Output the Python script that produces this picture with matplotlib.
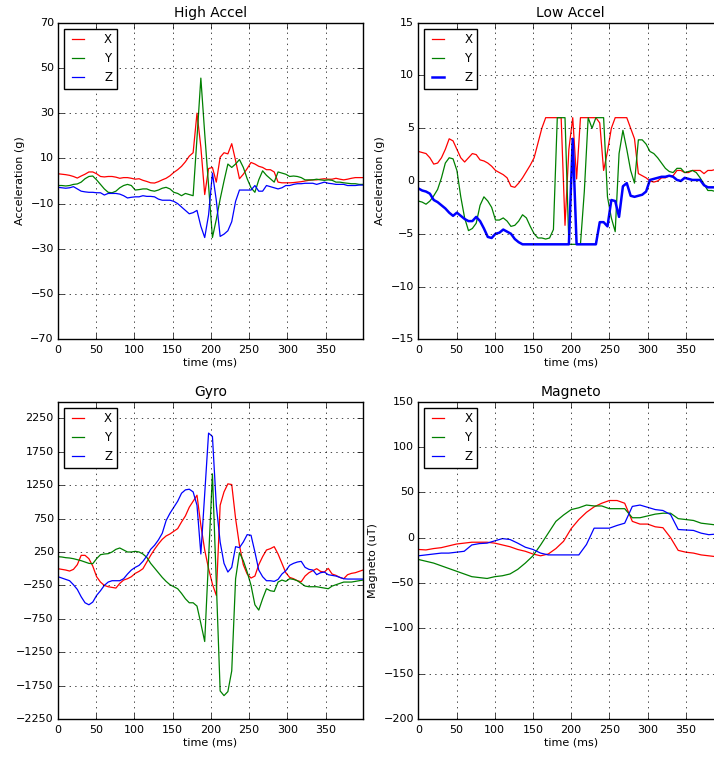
import numpy as np
import matplotlib
matplotlib.use("Agg")
import matplotlib.pyplot as plt

# sample times (ms), 80 samples per sensor
time_ms = np.linspace(0, 399, 80)
# magneto is read on a coarser grid
mag_time_ms = np.arange(0, 400, 10)

# High accel (g)
high_x = [3.2, 3.0, 2.8, 2.5, 2.0, 1.3, 2.2, 3.0, 4.0, 4.0, 3.2, 2.0, 1.8, 2.0, 2.0, 1.7,
          1.2, 1.5, 1.5, 1.2, 0.8, 1.0, 0.3, -0.2, -0.8, -0.9, -0.3, 0.5, 1.2, 2.3, 3.8, 5.0,
          6.5, 8.5, 11.0, 12.5, 30.0, 15.0, -6.0, 5.5, 6.0, -0.5, 10.5, 12.5, 12.0, 16.5, 9.0, 1.0,
          3.0, 5.5, 8.2, 7.5, 6.5, 6.0, 5.0, 5.0, 4.0, -0.5, -0.8, -0.8, -0.8, -0.7, -0.5, -0.3,
          0.0, 0.3, 0.5, 0.5, 0.8, 1.0, 0.8, 0.8, 1.2, 0.8, 0.5, 0.8, 1.2, 1.5, 1.5, 1.5]
high_y = [-2.0, -2.0, -2.2, -2.0, -1.5, -1.3, -0.5, 1.0, 2.0, 2.2, 0.5, -1.5, -3.5, -5.0, -5.2, -4.5,
          -3.0, -2.0, -1.5, -2.0, -4.0, -3.8, -3.5, -3.5, -4.2, -4.5, -4.0, -3.2, -2.8, -3.5, -5.0, -5.5,
          -6.5, -5.5, -6.0, -6.5, 19.0, 45.5, 21.0, -2.0, -25.0, -17.0, -8.0, 0.0, 7.5, 6.0, 7.5, 9.5,
          6.0, 1.0, -3.0, -5.0, 0.5, 4.5, 2.5, 1.0, -0.5, 4.0, 3.5, 3.0, 2.0, 2.2, 2.0, 1.5,
          0.5, 0.5, 0.5, 0.8, 0.5, 0.3, 0.5, 0.3, -0.5, -0.5, -0.8, -1.0, -1.2, -1.2, -1.5, -1.5]
high_z = [-2.8, -3.0, -3.2, -3.0, -2.5, -3.5, -4.5, -4.8, -5.0, -5.0, -5.2, -5.2, -6.2, -5.5, -5.5, -5.5,
          -5.8, -6.5, -7.5, -7.2, -7.0, -7.0, -6.5, -6.8, -6.8, -7.0, -8.0, -8.5, -8.5, -8.5, -9.0, -10.0,
          -11.5, -13.0, -14.5, -14.0, -13.0, -20.0, -25.0, -15.0, 3.5, -8.5, -24.5, -23.5, -22.0, -18.0, -9.0, -4.0,
          -4.0, -4.0, -4.0, -2.0, -4.5, -4.5, -2.0, -2.5, -3.0, -3.5, -3.0, -2.0, -2.0, -1.5, -1.2, -1.2,
          -1.0, -1.0, -1.0, -1.5, -1.0, -0.5, -1.0, -1.2, -1.5, -1.5, -1.5, -2.0, -2.0, -2.0, -1.8, -1.8]

# Low accel (g)
low_x = [2.8, 2.7, 2.6, 2.2, 1.6, 1.7, 2.2, 3.0, 4.0, 3.8, 3.0, 2.2, 1.8, 2.2, 2.6, 2.5,
         2.0, 1.9, 1.7, 1.4, 1.0, 0.8, 0.6, 0.3, -0.5, -0.6, -0.2, 0.3, 0.9, 1.5, 2.2, 3.6,
         5.0, 6.0, 6.0, 6.0, 6.0, 6.0, -4.2, 3.0, 6.0, 0.2, 6.0, 6.0, 6.0, 6.0, 6.0, 5.5,
         1.0, 2.8, 5.0, 6.0, 6.0, 6.0, 6.0, 5.0, 4.0, 0.7, 0.5, 0.3, 0.0, -0.1, 0.0, 0.3,
         0.3, 0.5, 0.5, 1.0, 1.0, 0.8, 0.8, 1.0, 1.0, 1.0, 0.7, 1.0, 1.0, 1.1, 1.2, 1.2]
low_y = [-1.9, -2.0, -2.2, -1.9, -1.4, -0.8, 0.3, 1.7, 2.2, 2.1, 1.0, -1.5, -3.5, -4.7, -4.5, -4.0,
         -2.3, -1.5, -1.9, -2.5, -3.7, -3.7, -3.5, -3.8, -4.3, -4.2, -3.8, -3.2, -3.5, -4.3, -5.0, -5.4,
         -5.4, -5.5, -5.4, -4.6, 6.0, 6.0, 6.0, -6.0, -6.0, -6.0, -6.0, -1.0, 6.0, 5.0, 6.0, 6.0,
         6.0, -1.5, -3.5, -4.8, 2.6, 4.8, 3.0, 1.0, -0.2, 3.9, 3.9, 3.5, 2.8, 2.6, 2.2, 1.7,
         1.2, 0.9, 0.8, 1.2, 1.2, 0.8, 0.9, 1.0, 0.8, 0.3, -0.3, -0.9, -0.9, -1.0, -1.0, -1.1]
low_z = [-0.7, -0.9, -1.0, -1.2, -1.8, -2.0, -2.3, -2.6, -3.0, -3.3, -3.0, -3.3, -3.6, -3.8, -3.8, -3.4,
         -3.8, -4.5, -5.3, -5.4, -5.0, -4.9, -4.6, -4.8, -5.0, -5.5, -5.8, -6.0, -6.0, -6.0, -6.0, -6.0,
         -6.0, -6.0, -6.0, -6.0, -6.0, -6.0, -6.0, -6.0, 4.0, -6.0, -6.0, -6.0, -6.0, -6.0, -6.0, -3.9,
         -3.9, -4.3, -1.8, -1.9, -3.4, -0.5, -0.2, -1.4, -1.5, -1.4, -1.3, -1.0, 0.1, 0.2, 0.3, 0.4,
         0.4, 0.5, 0.4, 0.1, 0.0, 0.3, 0.2, 0.1, 0.1, 0.1, -0.4, -0.6, -0.6, -0.6, -0.7, -0.7]

# Gyro
gyro_x = [0, -10, -20, -35, -10, 60, 200, 200, 150, 40, -120, -200, -250, -270, -280, -290,
          -220, -170, -150, -120, -70, -40, 0, 100, 200, 290, 370, 440, 490, 520, 560, 600,
          700, 790, 920, 1010, 1100, 650, 280, 0, -230, -400, 950, 1150, 1270, 1260, 750, 350,
          60, -80, -140, -110, 60, 180, 280, 300, 330, 220, 80, -60, -130, -150, -180, -195,
          -110, -60, -30, 0, -40, -50, 5, -80, -100, -130, -150, -90, -70, -60, -40, -20]
gyro_y = [180, 175, 165, 160, 150, 135, 120, 100, 80, 75, 150, 210, 220, 225, 250, 290,
          310, 280, 250, 250, 260, 250, 220, 170, 80, 10, -60, -130, -190, -240, -270, -300,
          -370, -450, -510, -510, -560, -820, -1090, 150, 1420, -200, -1830, -1900, -1840, -1530, -150, 240,
          120, -50, -250, -540, -620, -450, -300, -330, -340, -200, -170, -190, -150, -160, -180, -220,
          -260, -270, -270, -270, -280, -290, -300, -260, -240, -220, -200, -200, -200, -190, -180, -170]
gyro_z = [-120, -140, -160, -180, -240, -310, -420, -510, -540, -500, -400, -330, -250, -200, -180, -180,
          -180, -150, -80, -20, 20, 50, 110, 190, 290, 350, 430, 530, 720, 830, 920, 1010,
          1130, 1180, 1190, 1150, 950, 220, 1120, 2030, 1980, 950, 400, 80, -50, 20, 330, 315,
          400, 510, 500, 250, -20, -120, -180, -180, -190, -160, -80, -30, 50, 80, 100, 110,
          20, -10, -20, -90, -60, -50, -90, -100, -110, -130, -150, -155, -155, -155, -155, -155]

# Magneto (uT), 10 ms grid
mag_x = [-13, -13.5, -12, -11, -9, -7, -6, -5, -5, -5, -6, -8, -10, -13, -15, -18, -20, -18, -12, -4,
         10, 20, 28, 34, 38, 41, 41, 38, 18, 15, 15, 12, 11, 0, -14, -16, -17, -19, -20, -21]
mag_y = [-24, -26, -28, -31, -34, -37, -40, -43, -44, -45, -43, -42, -40, -35, -28, -20, -8, 5, 18, 25,
         31, 33, 36, 35, 35, 32, 32, 32, 22, 22, 24, 26, 27, 27, 21, 20, 19, 16, 15, 14]
mag_z = [-20, -19, -18, -17, -17, -16, -15, -8, -6.5, -6, -3.5, -1, -2, -6, -10.5, -13, -17, -19, -19, -19,
         -19, -19, -7.5, 10.5, 10.5, 10.5, 13.5, 16, 34.5, 36, 33.5, 31, 30, 25.5, 9, 8.5, 8, 5, 3.3, 4]

plt.style.use('classic')
plt.rcParams['figure.facecolor'] = 'white'
plt.rcParams['savefig.facecolor'] = 'white'
plt.rcParams['lines.linewidth'] = 0.9
plt.rcParams['xtick.labelsize'] = 8
plt.rcParams['ytick.labelsize'] = 8
plt.rcParams['xtick.major.pad'] = 4
plt.rcParams['ytick.major.pad'] = 3
plt.rcParams['axes.labelsize'] = 8
plt.rcParams['axes.titlesize'] = 10

fig = plt.figure(figsize=(7.14, 7.57), dpi=100)

W, H = 714.0, 757.0
def place(left, top, bottom, width=305):
    return fig.add_axes([left / W, 1 - bottom / H, width / W, (bottom - top) / H])

ax_hi = place(58, 22.7, 339.3)
ax_lo = place(418.3, 22.7, 339.3)
ax_gy = place(58, 401.7, 719)
ax_mg = place(418.3, 401.7, 719)

def draw(ax, t, xs, ys, zs, title, ylabel, ylim, yticks, zwidth=0.9):
    ax.plot(t, xs, color='r', label='X')
    ax.plot(t, ys, color='g', label='Y')
    ax.plot(t, zs, color='b', label='Z', linewidth=zwidth)
    ax.set_title(title, pad=4)
    ax.set_xlabel('time (ms)', labelpad=2)
    if ylabel:
        ax.set_ylabel(ylabel, labelpad=4)
    ax.set_xlim(0, 399)
    ax.set_xticks(np.arange(0, 400, 50))
    ax.set_ylim(*ylim)
    ax.set_yticks(yticks)
    ax.grid(True)
    ax.legend(loc='upper left', fontsize=8.5, handlelength=1.6, handletextpad=1.4,
              borderaxespad=0.5, labelspacing=0.5, fancybox=False)

draw(ax_hi, time_ms, high_x, high_y, high_z, 'High Accel', 'Acceleration (g)',
     (-70, 70), np.arange(-70, 71, 20))
draw(ax_lo, time_ms, low_x, low_y, low_z, 'Low Accel', 'Acceleration (g)',
     (-15, 15), np.arange(-15, 16, 5), zwidth=1.8)
draw(ax_gy, time_ms, gyro_x, gyro_y, gyro_z, 'Gyro', None,
     (-2250, 2500), np.arange(-2250, 2251, 500))
draw(ax_mg, mag_time_ms, mag_x, mag_y, mag_z, 'Magneto', 'Magneto (uT)',
     (-200, 150), np.arange(-200, 151, 50))

fig.savefig('out.png', dpi=100)
